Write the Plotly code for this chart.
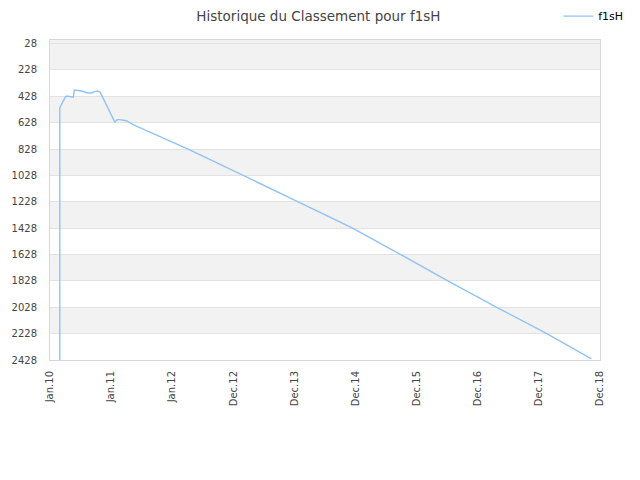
import plotly.graph_objects as go

# x positions are point indices along the history; labels sit every 100 points
idx = [16, 16, 20, 25, 28, 36, 38, 40, 52, 62, 69, 70, 78, 82, 106, 110, 114, 125,
       136, 226, 317, 406, 452, 495, 574, 651, 731, 813, 886]
rank = [2428, 517, 479, 434, 426, 434, 434, 381, 388, 403, 403, 396, 388, 396, 624, 605, 605, 613,
        643, 828, 1028, 1228, 1332, 1428, 1628, 1828, 2028, 2228, 2420]

tick_pos = [0, 100, 200, 300, 400, 500, 600, 700, 800, 900]
tick_text = ["Jan.10", "Jan.11", "Jan.12", "Dec.12", "Dec.13", "Dec.14",
             "Dec.15", "Dec.16", "Dec.17", "Dec.18"]
y_ticks = [28, 228, 428, 628, 828, 1028, 1228, 1428, 1628, 1828, 2028, 2228, 2428]
bands = [(1, 28), (28, 228), (428, 628), (828, 1028), (1228, 1428), (1628, 1828), (2028, 2228)]

fig = go.Figure()

fig.add_trace(go.Scatter(
    x=idx,
    y=rank,
    mode="lines",
    name="f1sH",
    line=dict(color="#90c3f5", width=1.4),
))

# alternating grey bands behind the grid
for lo, hi in bands:
    fig.add_shape(type="rect", xref="paper", x0=0, x1=1, yref="y", y0=lo, y1=hi,
                  fillcolor="#f2f2f2", line_width=0, layer="below")

# page body adds an 8px offset, margins are trimmed to compensate
fig.update_layout(
    width=640,
    height=480,
    title=dict(text="Historique du Classement pour f1sH", x=0.485, xanchor="center",
               y=0.993, yanchor="top",
               font=dict(family="DejaVu Sans", size=13.5, color="#444")),
    font=dict(family="DejaVu Sans", size=10, color="#444"),
    paper_bgcolor="white",
    plot_bgcolor="white",
    margin=dict(l=42, r=48, t=32, b=128, autoexpand=False),
    showlegend=True,
    legend=dict(x=0.924, y=1.12, xanchor="left", yanchor="top",
                font=dict(family="DejaVu Sans", size=11, color="#000"),
                bgcolor="rgba(0,0,0,0)"),
    xaxis=dict(
        range=[0, 900],
        tickvals=tick_pos,
        ticktext=tick_text,
        tickangle=-90,
        showgrid=False,
        zeroline=False,
        showline=True,
        linecolor="#d8d8d8",
        mirror=True,
        ticks="",
        ticklabelstandoff=6,
        tickfont=dict(size=10, color="#444"),
    ),
    yaxis=dict(
        range=[2428, 1],
        tickvals=y_ticks,
        showgrid=True,
        gridcolor="#e2e2e2",
        zeroline=False,
        showline=True,
        linecolor="#d8d8d8",
        mirror=True,
        ticks="",
        ticklabelstandoff=10,
        tickfont=dict(size=10, color="#444"),
    ),
)

fig.write_html("out.html")
